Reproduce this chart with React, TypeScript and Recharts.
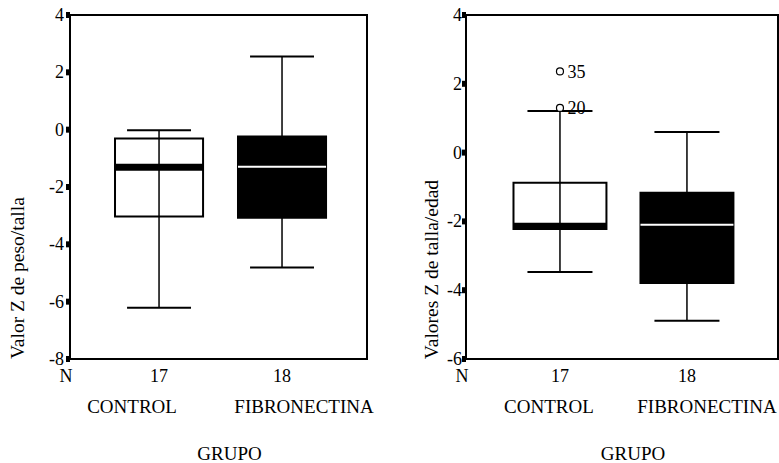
import React from 'react';
import {
  ComposedChart, XAxis, YAxis, ReferenceArea, ReferenceLine, Scatter, LabelList, Label,
} from 'recharts';

const FONT = "'Liberation Serif', 'Times New Roman', 'DejaVu Serif', serif";
const txt = (size: number): React.CSSProperties => ({ fontFamily: FONT, fontSize: size, fill: '#000' });

const groups = ['CONTROL', 'FIBRONECTINA'];
const groupN = ['17', '18'];

// Valor Z de peso/talla
const pesoMin = [-6.21, -4.81];
const pesoQ1 = [-3.03, -3.07];
const pesoMedian = [-1.31, -1.29];
const pesoQ3 = [-0.31, -0.24];
const pesoMax = [-0.02, 2.55];
const pesoTicks = [-8, -6, -4, -2, 0, 2, 4];
const pesoOutliers: { group: number; value: number; id: string }[] = [];

// Valores Z de talla/edad
const tallaMin = [-3.47, -4.89];
const tallaQ1 = [-2.22, -3.79];
const tallaMedian = [-2.13, -2.1];
const tallaQ3 = [-0.88, -1.17];
const tallaMax = [1.21, 0.6];
const tallaTicks = [-6, -4, -2, 0, 2, 4];
const tallaOutliers = [
  { group: 1, value: 2.36, id: '35' },
  { group: 1, value: 1.3, id: '20' },
];

type PanelProps = {
  left: number;
  width: number;
  margin: { top: number; right: number; bottom: number; left: number };
  xDomain: [number, number];
  yDomain: [number, number];
  yTicks: number[];
  min: number[];
  q1: number[];
  median: number[];
  q3: number[];
  max: number[];
  outliers: { group: number; value: number; id: string }[];
  yLabel: string;
  yLabelDx: number;
  yLabelFrac: number;
  tickGap: number;
  boxHalf: number;
  capHalf: number;
  nameDx: number[];
  medianWidth: number[];
};

function BoxPanel(p: PanelProps) {
  const xTicks = [p.xDomain[0], 1, 2];
  const points = p.outliers.map((o) => ({ x: o.group, y: o.value, id: o.id }));

  const renderYTick = (t: any) => (
    <g>
      <rect x={t.x - 4} y={t.y - 3} width={4} height={6} fill="#000" />
      <text x={t.x - p.tickGap} y={t.y + 6} textAnchor="end" style={txt(18)}>
        {t.payload.value}
      </text>
    </g>
  );

  const renderXTick = (t: any) => {
    if (t.payload.value < 0.9) {
      return (
        <text x={t.x - 4} y={t.y + 23} textAnchor="middle" style={txt(18)}>N</text>
      );
    }
    const i = Math.round(t.payload.value) - 1;
    return (
      <g>
        <text x={t.x} y={t.y + 23} textAnchor="middle" style={txt(18)}>{groupN[i]}</text>
        <text x={t.x + p.nameDx[i]} y={t.y + 54} textAnchor="middle" style={txt(19)}>
          {groups[i]}
        </text>
      </g>
    );
  };

  const renderYLabel = (props: any) => {
    const vb = props.viewBox;
    const cx = vb.x + vb.width - p.yLabelDx;
    const cy = vb.y + vb.height * p.yLabelFrac;
    return (
      <text x={cx} y={cy} transform={`rotate(-90 ${cx} ${cy})`} textAnchor="middle" dominantBaseline="central"
        style={txt(19.5)}>
        {p.yLabel}
      </text>
    );
  };

  const renderXLabel = (props: any) => {
    const vb = props.viewBox;
    return (
      <text x={vb.x + vb.width / 2 + 11} y={vb.y + 101} textAnchor="middle" style={txt(19)}>
        GRUPO
      </text>
    );
  };

  return (
    <ComposedChart
      width={p.width}
      height={463}
      margin={p.margin}
      style={{ position: 'absolute', left: p.left, top: 0, fontFamily: FONT }}
    >
      <XAxis
        type="number"
        dataKey="x"
        domain={p.xDomain}
        allowDataOverflow
        ticks={xTicks}
        interval={0}
        tick={renderXTick}
        tickLine={false}
        tickSize={0}
        tickMargin={0}
        height={100}
        axisLine={{ stroke: '#000', strokeWidth: 2 }}
      >
        <Label content={renderXLabel} />
      </XAxis>
      <YAxis
        type="number"
        dataKey="y"
        domain={p.yDomain}
        allowDataOverflow
        ticks={p.yTicks}
        interval={0}
        tick={renderYTick}
        tickLine={false}
        tickSize={0}
        tickMargin={0}
        width={60}
        axisLine={{ stroke: '#000', strokeWidth: 2 }}
      >
        <Label content={renderYLabel} />
      </YAxis>

      <ReferenceArea
        x1={p.xDomain[0]} x2={p.xDomain[1]} y1={p.yDomain[0]} y2={p.yDomain[1]}
        fill="none" stroke="#000" strokeWidth={2}
      />

      {p.q1.map((_, i) => {
        const c = i + 1;
        const dark = i === 1;
        return (
          <React.Fragment key={i}>
            <ReferenceLine segment={[{ x: c, y: p.min[i] }, { x: c, y: p.max[i] }]} stroke="#000" strokeWidth={1.5} />
            <ReferenceLine segment={[{ x: c - p.capHalf, y: p.max[i] }, { x: c + p.capHalf, y: p.max[i] }]} stroke="#000" strokeWidth={2} />
            <ReferenceLine segment={[{ x: c - p.capHalf, y: p.min[i] }, { x: c + p.capHalf, y: p.min[i] }]} stroke="#000" strokeWidth={2} />
            <ReferenceArea
              x1={c - p.boxHalf} x2={c + p.boxHalf} y1={p.q1[i]} y2={p.q3[i]}
              fill={dark ? '#000' : '#fff'} fillOpacity={1} stroke="#000" strokeWidth={2}
            />
            <ReferenceLine
              segment={[{ x: c - p.boxHalf, y: p.median[i] }, { x: c + p.boxHalf, y: p.median[i] }]}
              stroke={dark ? '#fff' : '#000'} strokeWidth={p.medianWidth[i]}
            />
          </React.Fragment>
        );
      })}

      <Scatter
        data={points}
        dataKey="y"
        isAnimationActive={false}
        shape={(s: any) => <circle cx={s.cx} cy={s.cy} r={3.5} fill="#fff" stroke="#000" strokeWidth={1.2} />}
      >
        <LabelList dataKey="id" position="right" offset={3} style={txt(18)} />
      </Scatter>
    </ComposedChart>
  );
}

export default function App() {
  return (
    <div style={{ position: 'absolute', left: 0, top: 0, width: 779, height: 463, background: '#fff', fontFamily: FONT }}>
      <BoxPanel
        left={0}
        width={390}
        margin={{ top: 15, right: 23, bottom: 4, left: 10 }}
        xDomain={[0.276, 2.691]}
        yDomain={[-8, 4]}
        yTicks={pesoTicks}
        min={pesoMin}
        q1={pesoQ1}
        median={pesoMedian}
        q3={pesoQ3}
        max={pesoMax}
        outliers={pesoOutliers}
        yLabel="Valor Z de peso/talla"
        yLabelDx={52}
        yLabelFrac={0.765}
        tickGap={6}
        boxHalf={0.358}
        capHalf={0.26}
        nameDx={[-27, 22]}
        medianWidth={[7, 2]}
      />
      <BoxPanel
        left={390}
        width={389}
        margin={{ top: 15, right: 1, bottom: 4, left: 16 }}
        xDomain={[0.26, 2.717]}
        yDomain={[-6, 4]}
        yTicks={tallaTicks}
        min={tallaMin}
        q1={tallaQ1}
        median={tallaMedian}
        q3={tallaQ3}
        max={tallaMax}
        outliers={tallaOutliers}
        yLabel="Valores Z de talla/edad"
        yLabelDx={34}
        yLabelFrac={0.74}
        tickGap={4}
        boxHalf={0.366}
        capHalf={0.256}
        nameDx={[-11, 20]}
        medianWidth={[6, 2]}
      />
    </div>
  );
}
